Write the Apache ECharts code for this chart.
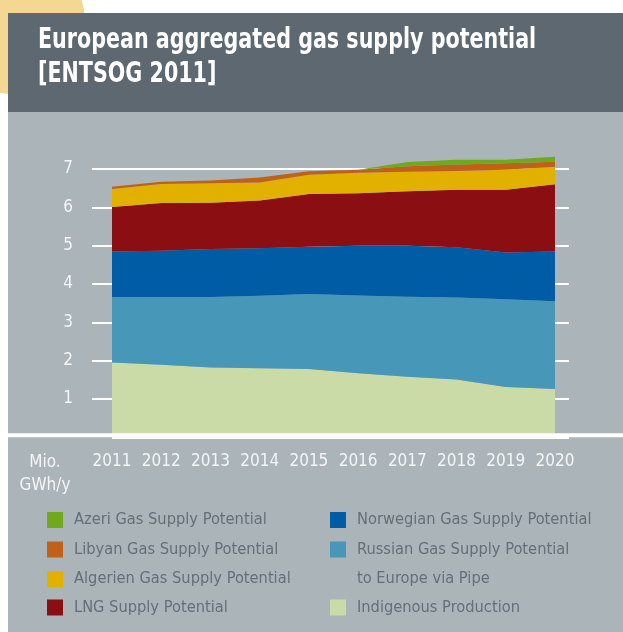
<!DOCTYPE html>
<html>
<head>
<meta charset="utf-8">
<script src="https://cdn.jsdelivr.net/npm/echarts@6/dist/echarts.min.js"></script>
<style>
html,body{margin:0;padding:0;background:#fff;}
#chart{width:623px;height:632px;}
</style>
</head>
<body>
<div id="chart"></div>
<script>
const years = ['2011','2012','2013','2014','2015','2016','2017','2018','2019','2020'];
const yTicks = [0,1,2,3,4,5,6,7];
const indigenous = [1.95,1.89,1.82,1.80,1.78,1.67,1.58,1.51,1.31,1.26];
const russian    = [1.71,1.77,1.84,1.89,1.96,2.03,2.09,2.14,2.29,2.29];
const norwegian  = [1.19,1.21,1.25,1.24,1.23,1.30,1.33,1.31,1.22,1.30];
const lng        = [1.16,1.24,1.21,1.25,1.38,1.37,1.42,1.50,1.64,1.75];
const algerien   = [0.47,0.50,0.51,0.47,0.50,0.53,0.51,0.49,0.52,0.46];
const libyan     = [0.06,0.06,0.07,0.13,0.09,0.08,0.14,0.17,0.17,0.13];
const azeri      = [0,0,0,0,0,0,0.11,0.12,0.09,0.13];

const N_AZ = 'Azeri Gas Supply Potential';
const N_LY = 'Libyan Gas Supply Potential';
const N_AL = 'Algerien Gas Supply Potential';
const N_LNG = 'LNG Supply Potential';
const N_NO = 'Norwegian Gas Supply Potential';
const N_RU = 'Russian Gas Supply Potential to Europe via Pipe';
const N_IN = 'Indigenous Production';

const FONT = "'Liberation Sans Narrow', 'DejaVu Sans Condensed', 'Arial Narrow', sans-serif";
const LEG_TXT = '#646f77';
const LEG_FS = 16.3;

function mk(name, data, color) {
  return {
    name: name, type: 'line', stack: 'total', data: data,
    symbol: 'none', clip: false, smooth: false,
    lineStyle: {width: 0}, itemStyle: {color: color},
    areaStyle: {color: color, opacity: 1}, z: 3
  };
}

function legendItem(name, left, top, extra) {
  const base = {
    data: [name], left: left, top: top, padding: 0, orient: 'vertical',
    itemWidth: 16, itemHeight: 16, icon: 'rect', selectedMode: false,
    textStyle: {color: LEG_TXT, fontSize: LEG_FS, fontFamily: FONT, lineHeight: 16, padding: [0,0,0,6]}
  };
  return Object.assign(base, extra || {});
}

const chart = echarts.init(document.getElementById('chart'), null, {renderer: 'canvas'});
chart.setOption({
  backgroundColor: '#ffffff',
  animation: false,
  graphic: [
    {type: 'circle', shape: {cx: 13, cy: 22, r: 72}, style: {fill: '#f3d793'}, z: -20},
    {type: 'rect', shape: {x: 8, y: 13, width: 615, height: 99}, style: {fill: '#5d6870'}, z: -10},
    {type: 'rect', shape: {x: 8, y: 112, width: 615, height: 520}, style: {fill: '#aab4b9'}, z: -10},
    {type: 'rect', shape: {x: 8, y: 433.3, width: 615, height: 4}, style: {fill: '#ffffff'}, z: 50},
    {type: 'text', x: 38, y: 24, scaleX: 0.82, z: 50,
      style: {text: 'European aggregated gas supply potential\n[ENTSOG 2011]', fill: '#ffffff', fontSize: 28, fontWeight: 'bold', fontFamily: FONT, lineHeight: 34, align: 'left', verticalAlign: 'top'}},
    {type: 'text', x: 45, y: 451.5, z: 50,
      style: {text: 'Mio.\nGWh/y', fill: '#f4f6f7', fontSize: 17, fontFamily: FONT, lineHeight: 23, align: 'center', verticalAlign: 'top'}}
  ],
  legend: [
    legendItem(N_AZ, 47, 512),
    legendItem(N_LY, 47, 541.5),
    legendItem(N_AL, 47, 571),
    legendItem(N_LNG, 47, 599.5),
    legendItem(N_NO, 330, 512),
    legendItem(N_RU, 330, 534.75, {
      itemHeight: 45.5,
      icon: 'path://M0,0L16,0L16,16L0,16Z M0,45.5L0.01,45.5L0.01,45.49Z',
      formatter: function () { return 'Russian Gas Supply Potential\nto Europe via Pipe'; },
      textStyle: {color: LEG_TXT, fontSize: LEG_FS, fontFamily: FONT, lineHeight: 29.5, padding: [0,0,0,6]}
    }),
    legendItem(N_IN, 330, 599.5)
  ],
  grid: {left: 112, right: 68, top: 169, bottom: 194.7, containLabel: false},
  xAxis: {
    type: 'category', data: years, boundaryGap: false,
    axisLine: {show: false}, axisTick: {show: false}, splitLine: {show: false},
    axisLabel: {color: '#f4f6f7', fontSize: 17, fontFamily: FONT, margin: 16, interval: 0}
  },
  yAxis: [
    {
      type: 'value', min: 0, max: 7, interval: 1,
      axisLine: {show: false},
      axisTick: {show: true, length: 20, lineStyle: {color: '#ffffff', width: 2}},
      axisLabel: {color: '#f4f6f7', fontSize: 17, fontFamily: FONT, margin: 39, showMinLabel: false},
      splitLine: {show: true, lineStyle: {color: '#ffffff', width: 2}}
    },
    {
      type: 'value', min: 0, max: 7, interval: 1, position: 'right',
      axisLine: {show: false},
      axisTick: {show: true, length: 14, lineStyle: {color: '#ffffff', width: 2}},
      axisLabel: {show: false}, splitLine: {show: false}
    }
  ],
  series: [
    mk(N_IN, indigenous, '#cbdba8'),
    mk(N_RU, russian, '#4798b8'),
    mk(N_NO, norwegian, '#005ca5'),
    mk(N_LNG, lng, '#8b0e13'),
    mk(N_AL, algerien, '#e2b100'),
    mk(N_LY, libyan, '#c0611a'),
    mk(N_AZ, azeri, '#70a81e')
  ]
});
</script>
</body>
</html>
